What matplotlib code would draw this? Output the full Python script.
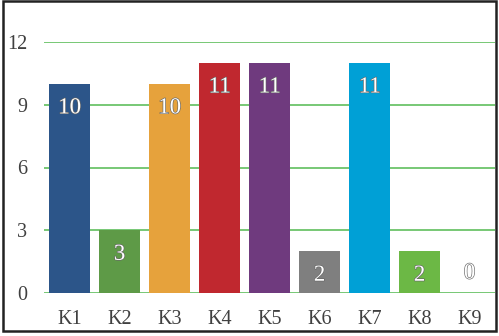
import matplotlib
matplotlib.use("Agg")
import matplotlib.pyplot as plt
import matplotlib.patheffects as pe
from matplotlib.patches import Rectangle

categories = ["K1", "K2", "K3", "K4", "K5", "K6", "K7", "K8", "K9"]
values = [10, 3, 10, 11, 11, 2, 11, 2, 0]
colors = ["#2c5589", "#5e9a47", "#e6a23c", "#c0282f", "#6f3a7e",
          "#7f7f7f", "#00a0d6", "#6cb845", "#9dc3e6"]
yticks = [0, 3, 6, 9, 12]

plt.rcParams['font.family'] = ['Liberation Serif', 'DejaVu Serif']

fig = plt.figure(figsize=(4.99, 3.36), dpi=100)
ax = fig.add_axes([44/499, 1-293/336, (495-44)/499, (293-42)/336])

x = list(range(len(categories)))
ax.bar(x, values, width=0.82, color=colors, zorder=3)
ax.set_xlim(-0.51, 8.51)
ax.set_ylim(0, 12)
ax.set_yticks(yticks)
ax.set_yticklabels([str(t) for t in yticks])
ax.set_xticks(x)
ax.set_xticklabels(categories)
ax.tick_params(axis='both', length=0, labelsize=14.5, colors='#404040')
ax.tick_params(axis='y', pad=12)
ax.tick_params(axis='x', pad=12)
ax.grid(axis='y', color='#6cc46a', linewidth=1.3, zorder=1)
for s in ax.spines.values():
    s.set_visible(False)

for xi, v in zip(x, values):
    y = v - 1.15 if v > 0 else 0.95
    t = ax.text(xi, y, str(v), ha='center', va='center', fontsize=16.5,
                color='white', zorder=4)
    t.set_path_effects([pe.withStroke(linewidth=0.9, foreground='#666666')])

fig.patches.append(Rectangle((3/499, 1-331/336), 493/499, 330/336,
                             transform=fig.transFigure, fill=False,
                             edgecolor='#222222', linewidth=1.8))

fig.savefig("out.png", dpi=100)
